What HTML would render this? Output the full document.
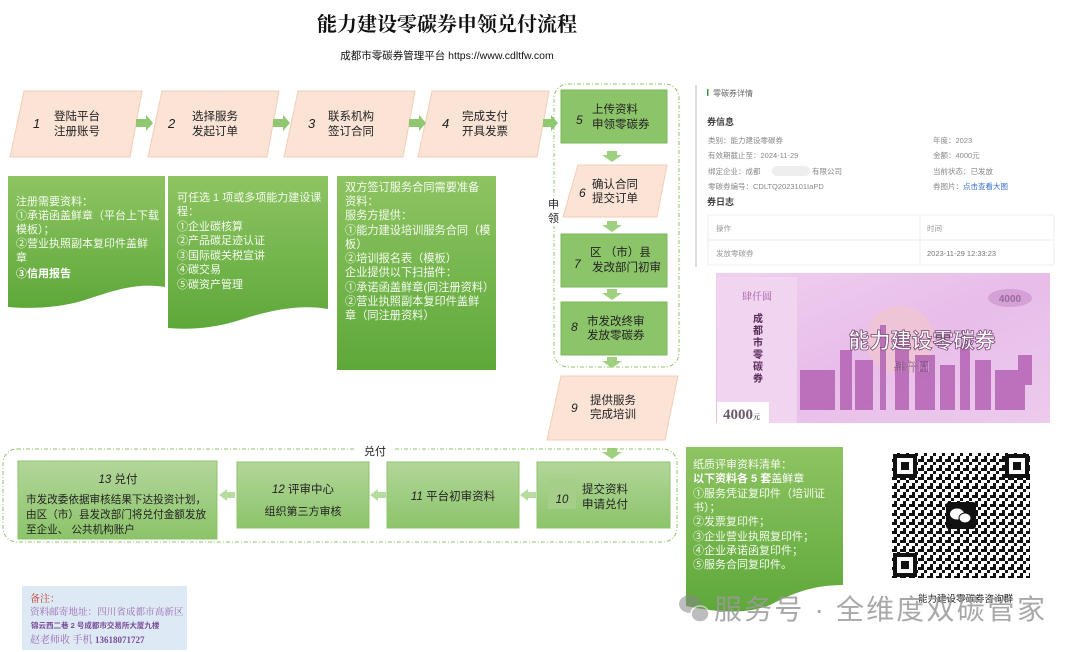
<!DOCTYPE html>
<html><head><meta charset="utf-8">
<style>
html,body{margin:0;padding:0;background:#fff;}
svg{display:block;}
text{font-family:"Liberation Sans","Noto Sans CJK SC",sans-serif;}
.s{font-family:"Liberation Serif","Noto Serif CJK SC",serif;}
</style></head>
<body>
<svg width="1080" height="652" viewBox="0 0 1080 652" xmlns="http://www.w3.org/2000/svg">
<defs>
<linearGradient id="g" x1="0" y1="0" x2="0" y2="1">
<stop offset="0" stop-color="#8ec462"/><stop offset="1" stop-color="#5ea83a"/></linearGradient>
<linearGradient id="gb" x1="0" y1="0" x2="0" y2="1">
<stop offset="0" stop-color="#b2d69a"/><stop offset="1" stop-color="#8cc46a"/></linearGradient>
<linearGradient id="pk" x1="0" y1="0" x2="1" y2="1">
<stop offset="0" stop-color="#f0d0f0"/><stop offset="0.5" stop-color="#e8bde9"/><stop offset="1" stop-color="#eccbec"/></linearGradient>
<pattern id="qr" width="9" height="9" patternUnits="userSpaceOnUse">
<rect width="9" height="9" fill="#fff"/><rect x="0" y="0" width="3" height="3" fill="#111"/><rect x="6" y="3" width="3" height="3" fill="#111"/><rect x="3" y="6" width="3" height="3" fill="#111"/><rect x="3" y="0" width="3" height="3" fill="#111"/></pattern>
</defs>

<text x="447" y="31" text-anchor="middle" font-size="20" font-weight="bold" class="s" fill="#111">能力建设零碳券申领兑付流程</text>
<text x="447" y="59" text-anchor="middle" font-size="10.5" fill="#111">成都市零碳券管理平台 https://www.cdltfw.com</text>

<g fill="#fbe3d6" stroke="#f2cdb8" stroke-width="1">
<polygon points="24,91 142,91 130,157 10,157"/>
<polygon points="162,91 279,91 267,157 148,157"/>
<polygon points="298,91 415,91 403,157 284,157"/>
<polygon points="432,91 549,91 537,157 418,157"/>
</g>
<g font-size="11.5" fill="#222">
<text x="33" y="128" font-style="italic" font-size="13">1</text>
<text x="54" y="120">登陆平台</text><text x="54" y="135">注册账号</text>
<text x="168" y="128" font-style="italic" font-size="13">2</text>
<text x="192" y="120">选择服务</text><text x="192" y="135">发起订单</text>
<text x="308" y="128" font-style="italic" font-size="13">3</text>
<text x="328" y="120">联系机构</text><text x="328" y="135">签订合同</text>
<text x="442" y="128" font-style="italic" font-size="13">4</text>
<text x="462" y="120">完成支付</text><text x="462" y="135">开具发票</text>
</g>
<g fill="#8fc870">
<polygon points="136,119 146,119 146,115 153,123 146,131 146,127 136,127"/>
<polygon points="273,119 283,119 283,115 290,123 283,131 283,127 273,127"/>
<polygon points="409,119 419,119 419,115 426,123 419,131 419,127 409,127"/>
<polygon points="543,119 551,119 551,115 558,123 551,131 551,127 543,127"/>
</g>

<path d="M8,176 H165 V287 C135,282 110,292 85,300 C60,308 30,309 8,307 Z" fill="url(#g)"/>
<path d="M168,176 H328 V309 C300,304 270,310 240,320 C215,328 190,330 168,328 Z" fill="url(#g)"/>
<path d="M337,176 H496 V370 H337 Z" fill="url(#g)"/>
<g class="s" font-size="11" fill="#f4fbef">
<text x="16" y="205">注册需要资料：</text>
<text x="16" y="219">①承诺函盖鲜章（平台上下载</text>
<text x="16" y="233">模板）；</text>
<text x="16" y="247">②营业执照副本复印件盖鲜</text>
<text x="16" y="261">章</text>
<text x="16" y="277" font-weight="bold" fill="#fff">③信用报告</text>

<text x="177" y="201">可任选 1 项或多项能力建设课</text>
<text x="177" y="215">程：</text>
<text x="177" y="230">①企业碳核算</text>
<text x="177" y="244">②产品碳足迹认证</text>
<text x="177" y="259">③国际碳关税宣讲</text>
<text x="177" y="273">④碳交易</text>
<text x="177" y="288">⑤碳资产管理</text>
</g>
<g class="s" font-size="11.2" fill="#f4fbef">
<text x="345" y="191">双方签订服务合同需要准备</text>
<text x="345" y="205">资料：</text>
<text x="345" y="219">服务方提供：</text>
<text x="345" y="234">①能力建设培训服务合同（模</text>
<text x="345" y="248">板）</text>
<text x="345" y="262">②培训报名表（模板）</text>
<text x="345" y="276">企业提供以下扫描件：</text>
<text x="345" y="291">①承诺函盖鲜章(同注册资料）</text>
<text x="345" y="305">②营业执照副本复印件盖鲜</text>
<text x="345" y="319">章（同注册资料）</text>
</g>

<rect x="554" y="84" width="125" height="283" rx="14" fill="none" stroke="#8cc46a" stroke-width="1" stroke-dasharray="4,2,1,2"/>
<rect x="546" y="196" width="16" height="30" fill="#fff"/>
<text x="548" y="208" font-size="11" fill="#222">申</text>
<text x="548" y="222" font-size="11" fill="#222">领</text>

<rect x="561" y="90" width="106" height="53" fill="#8cc46a" stroke="#7ab85a"/>
<text x="576" y="124" font-size="12" font-style="italic" fill="#222">5</text>
<text x="592" y="113" font-size="11.5" fill="#222">上传资料</text>
<text x="592" y="128" font-size="11.5" fill="#222">申领零碳券</text>

<polygon points="578,165 667,165 657,217 563,217" fill="#fbe3d6" stroke="#f2cdb8"/>
<text x="579" y="197" font-size="12" font-style="italic" fill="#222">6</text>
<text x="592" y="188" font-size="11.5" fill="#222">确认合同</text>
<text x="592" y="202" font-size="11.5" fill="#222">提交订单</text>

<rect x="561" y="234" width="106" height="53" fill="#8cc46a" stroke="#7ab85a"/>
<text x="574" y="268" font-size="12" font-style="italic" fill="#222">7</text>
<text x="590" y="256" font-size="11.5" fill="#222">区 （市）县</text>
<text x="592" y="271" font-size="11.5" fill="#222">发改部门初审</text>

<rect x="561" y="302" width="106" height="53" fill="#8cc46a" stroke="#7ab85a"/>
<text x="571" y="331" font-size="12" font-style="italic" fill="#222">8</text>
<text x="587" y="325" font-size="11.5" fill="#222">市发改终审</text>
<text x="587" y="339" font-size="11.5" fill="#222">发放零碳券</text>

<polygon points="561,376 678,376 665,440 547,440" fill="#fbe3d6" stroke="#f2cdb8"/>
<text x="571" y="412" font-size="12" font-style="italic" fill="#222">9</text>
<text x="590" y="404" font-size="11.5" fill="#222">提供服务</text>
<text x="590" y="418" font-size="11.5" fill="#222">完成培训</text>

<g fill="#9fd080">
<polygon points="607,151 617,151 617,155 622,155 612,162 602,155 607,155"/>
<polygon points="607,221 617,221 617,225 622,225 612,232 602,225 607,225"/>
<polygon points="607,289 617,289 617,293 622,293 612,300 602,293 607,293"/>
<polygon points="607,357 617,357 617,361 622,361 612,368 602,361 607,361"/>
<polygon points="607,448 617,448 617,452 622,452 612,459 602,452 607,452"/>
</g>

<line x1="696" y1="85" x2="696" y2="267" stroke="#bbb"/>
<rect x="707" y="89" width="1.5" height="7" fill="#3a9b4a"/>
<text x="713" y="96" font-size="8" fill="#666">零碳券详情</text>
<text x="707" y="125" font-size="9" font-weight="bold" fill="#444">券信息</text>
<g font-size="7.5" fill="#888">
<text x="708" y="143">类别：能力建设零碳券</text>
<text x="708" y="158">有效期截止至：2024-11-29</text>
<text x="708" y="174">绑定企业：成都</text>
<rect x="772" y="166" width="38" height="10" rx="5" fill="#eee"/>
<text x="812" y="174">有限公司</text>
<text x="708" y="189">零碳券编号：CDLTQ2023101IaPD</text>
<text x="933" y="143">年度：2023</text>
<text x="933" y="158">金额：4000元</text>
<text x="933" y="174">当前状态：已发放</text>
<text x="933" y="189">券图片：<tspan fill="#3b6fd0">点击查看大图</tspan></text>
</g>
<text x="707" y="205" font-size="9" font-weight="bold" fill="#444">券日志</text>
<rect x="708" y="215" width="346" height="50" fill="#fff" stroke="#eee"/>
<line x1="708" y1="240" x2="1054" y2="240" stroke="#eee"/>
<line x1="920" y1="215" x2="920" y2="265" stroke="#eee"/>
<g font-size="7.5" fill="#999">
<text x="716" y="231">操作</text><text x="927" y="231">时间</text>
<text x="716" y="256">发放零碳券</text><text x="927" y="256" fill="#777">2023-11-29 12:33:23</text>
</g>

<rect x="716" y="273" width="334" height="150" fill="url(#pk)"/>
<rect x="717" y="277" width="80" height="146" fill="#f0d4f0"/>
<text x="757" y="300" text-anchor="middle" font-size="10" class="s" fill="#a45aa4">肆仟圆</text>
<g font-size="10" class="s" fill="#5a2a5a" font-weight="bold">
<text x="753" y="322">成</text><text x="753" y="334">都</text><text x="753" y="346">市</text><text x="753" y="358">零</text><text x="753" y="370">碳</text><text x="753" y="382">券</text>
</g>
<rect x="717" y="402" width="52" height="21" fill="#fff"/>
<text x="723" y="419" font-size="15" font-weight="bold" class="s" fill="#6a5a6a">4000<tspan font-size="7">元</tspan></text>
<ellipse cx="1010" cy="298" rx="22" ry="9" fill="#d5a0d5"/>
<text x="1010" y="302" text-anchor="middle" font-size="10" font-weight="bold" fill="#9a6a9a">4000</text>
<circle cx="900" cy="340" r="34" fill="#f2c8c8" opacity="0.6"/>
<g fill="#b363b3" opacity="0.85">
<rect x="800" y="370" width="35" height="40"/><rect x="840" y="350" width="12" height="60"/><rect x="855" y="360" width="18" height="50"/>
<rect x="880" y="325" width="6" height="85"/><rect x="895" y="345" width="14" height="65"/><rect x="915" y="355" width="20" height="55"/>
<rect x="940" y="365" width="15" height="45"/><rect x="960" y="345" width="10" height="65"/><rect x="975" y="360" width="16" height="50"/>
<rect x="995" y="370" width="30" height="40"/><rect x="1018" y="355" width="14" height="30"/>
</g>
<text x="922" y="348" text-anchor="middle" font-size="21" font-weight="bold" fill="#fff" stroke="#7a4a7a" stroke-width="0.8">能力建设零碳券</text>
<text x="912" y="371" text-anchor="middle" font-size="12" class="s" fill="#fff" stroke="#8a4a8a" stroke-width="0.4">肆仟圆</text>

<rect x="3" y="449" width="674" height="93" rx="14" fill="none" stroke="#8cc46a" stroke-dasharray="4,2,1,2"/>
<rect x="355" y="443" width="40" height="14" fill="#fff"/>
<text x="375" y="455" text-anchor="middle" font-size="11" fill="#222">兑付</text>

<rect x="18" y="461" width="199" height="78" fill="url(#gb)" stroke="#8cc46a"/>
<text x="118" y="483" text-anchor="middle" font-size="11.5" fill="#222"><tspan font-style="italic">13</tspan> 兑付</text>
<g font-size="10.6" class="s" fill="#222">
<text x="26" y="503">市发改委依据审核结果下达投资计划，</text>
<text x="26" y="518">由区（市）县发改部门将兑付金额发放</text>
<text x="26" y="533">至企业、 公共机构账户</text>
</g>
<rect x="237" y="462" width="132" height="66" fill="url(#gb)" stroke="#8cc46a"/>
<text x="303" y="493" text-anchor="middle" font-size="11.5" fill="#222"><tspan font-style="italic">12</tspan> 评审中心</text>
<text x="303" y="515" text-anchor="middle" font-size="11" fill="#222">组织第三方审核</text>
<rect x="387" y="462" width="132" height="66" fill="url(#gb)" stroke="#8cc46a"/>
<text x="453" y="500" text-anchor="middle" font-size="11.5" fill="#222"><tspan font-style="italic">11</tspan> 平台初审资料</text>
<rect x="537" y="462" width="133" height="66" fill="url(#gb)" stroke="#8cc46a"/>
<rect x="548" y="479" width="28" height="30" fill="#a5cf88"/>
<text x="562" y="503" text-anchor="middle" font-size="11.5" font-style="italic" fill="#222">10</text>
<text x="582" y="493" font-size="11.5" fill="#222">提交资料</text>
<text x="582" y="508" font-size="11.5" fill="#222">申请兑付</text>
<g fill="#b8dca0">
<polygon points="219,495 227,489 227,492 235,492 235,498 227,498 227,501"/>
<polygon points="370,495 378,489 378,492 386,492 386,498 378,498 378,501"/>
<polygon points="520,495 528,489 528,492 536,492 536,498 528,498 528,501"/>
</g>

<path d="M686,447 H843 V585 C810,585 790,595 770,605 C745,615 715,612 686,606 Z" fill="url(#g)"/>
<g class="s" font-size="11" fill="#f4fbef">
<text x="693" y="468">纸质评审资料清单：</text>
<text x="693" y="482" font-weight="bold" fill="#fff">以下资料各 5 套<tspan font-weight="normal">盖鲜章</tspan></text>
<text x="693" y="497">①服务凭证复印件（培训证</text>
<text x="693" y="511">书）；</text>
<text x="693" y="525">②发票复印件；</text>
<text x="693" y="540">③企业营业执照复印件；</text>
<text x="693" y="554">④企业承诺函复印件；</text>
<text x="693" y="568">⑤服务合同复印件。</text>
</g>

<rect x="892" y="453" width="138" height="125" fill="url(#qr)"/>
<g fill="#fff" stroke="#111" stroke-width="4">
<rect x="895" y="456" width="20" height="20"/><rect x="1007" y="456" width="20" height="20"/><rect x="895" y="555" width="20" height="20"/>
</g>
<g fill="#111"><rect x="901" y="462" width="8" height="8"/><rect x="1013" y="462" width="8" height="8"/><rect x="901" y="561" width="8" height="8"/></g>
<rect x="946" y="502" width="30" height="27" rx="3" fill="#111"/>
<ellipse cx="957" cy="514" rx="7" ry="5.5" fill="#fff"/><ellipse cx="965" cy="518" rx="6" ry="5" fill="#fff" stroke="#111"/>
<text x="918" y="602" font-size="9.5" fill="#222">能力建设零碳券咨询群</text>

<g opacity="0.55">
<ellipse cx="690" cy="604" rx="11" ry="9" fill="#888"/>
<ellipse cx="700" cy="614" rx="9" ry="8" fill="#888" stroke="#fff" stroke-width="1.5"/>
</g>
<text x="714" y="619" font-size="28" fill="#9a9a9a" opacity="0.85" textLength="331" lengthAdjust="spacing">服务号 · 全维度双碳管家</text>

<rect x="22" y="586" width="165" height="64" fill="#dde9f5"/>
<text x="30" y="602" font-size="10" class="s" fill="#c0392b">备注：</text>
<text x="30" y="615" font-size="9.6" class="s" fill="#9b6bb0">资料邮寄地址：四川省成都市高新区</text>
<text x="31" y="628" font-size="7.5" font-weight="bold" fill="#7a4a9a">锦云西二巷 2 号成都市交易所大厦九楼</text>
<text x="30" y="643" font-size="10" class="s" fill="#9b6bb0">赵老师收  手机 <tspan font-weight="bold" fill="#7a4a9a" font-size="9">13618071727</tspan></text>
</svg>
</body></html>
